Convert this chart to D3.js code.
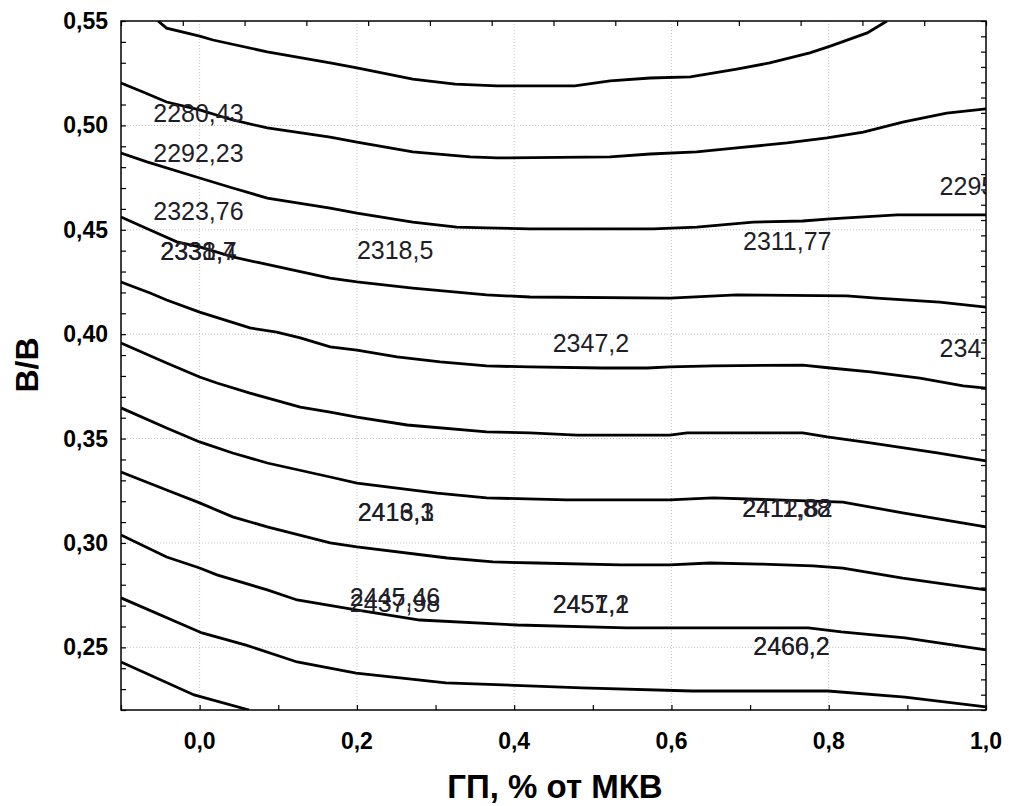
<!DOCTYPE html>
<html>
<head>
<meta charset="utf-8">
<script src="https://cdn.jsdelivr.net/npm/d3@7/dist/d3.min.js"></script>
<style>
body { margin: 0; background: #fff; }
text { font-family: Arial, "Liberation Sans", sans-serif; }
</style>
</head>
<body>
<div id="chart"></div>
<script>
// axis ticks
var xTicks = [0.0, 0.2, 0.4, 0.6, 0.8, 1.0];
var yTicks = [0.25, 0.30, 0.35, 0.40, 0.45, 0.50, 0.55];

// contour lines as [ГП, В/В]
var iso1 = [[-0.053,0.550],[-0.042,0.5466],[0.000,0.5428],[0.017,0.5409],[0.086,0.5352],[0.166,0.5299],[0.200,0.5275],[0.271,0.5222],[0.325,0.5198],[0.378,0.5189],[0.477,0.5189],[0.522,0.5213],[0.573,0.5227],[0.624,0.5232],[0.683,0.527],[0.725,0.5299],[0.776,0.5347],[0.802,0.538],[0.849,0.5443],[0.861,0.547],[0.874,0.550]];
var iso2 = [[-0.1,0.5203],[-0.072,0.516],[-0.042,0.5112],[0.0,0.5074],[0.042,0.5026],[0.086,0.4988],[0.166,0.4944],[0.2,0.492],[0.271,0.4873],[0.344,0.4849],[0.378,0.4844],[0.522,0.4849],[0.573,0.4863],[0.632,0.4873],[0.683,0.4892],[0.747,0.4916],[0.798,0.494],[0.844,0.4968],[0.894,0.5016],[0.950,0.5059],[1.0,0.5079]];
var iso3 = [[-0.1,0.4868],[-0.067,0.4825],[0.0,0.4748],[0.042,0.470],[0.086,0.4652],[0.166,0.4604],[0.2,0.458],[0.271,0.4537],[0.327,0.4513],[0.365,0.4509],[0.420,0.4504],[0.577,0.4504],[0.632,0.4513],[0.704,0.4537],[0.767,0.4542],[0.802,0.4552],[0.887,0.4571],[1.0,0.4571]];
var iso4 = [[-0.1,0.4561],[-0.063,0.4499],[-0.029,0.4442],[0.0,0.4418],[0.042,0.437],[0.077,0.4341],[0.166,0.4269],[0.2,0.425],[0.271,0.4221],[0.365,0.4188],[0.420,0.4178],[0.598,0.4173],[0.683,0.4188],[0.823,0.4183],[0.861,0.4173],[0.941,0.4154],[1.0,0.413]];
var iso5 = [[-0.1,0.425],[-0.063,0.4197],[-0.042,0.4164],[0.0,0.4106],[0.064,0.403],[0.098,0.401],[0.128,0.3982],[0.166,0.3939],[0.2,0.3924],[0.251,0.3891],[0.306,0.3867],[0.365,0.3848],[0.420,0.3843],[0.513,0.3838],[0.569,0.3838],[0.598,0.3843],[0.653,0.3848],[0.767,0.3852],[0.802,0.3838],[0.853,0.3819],[0.916,0.379],[0.971,0.3752],[1.0,0.3742]];
var iso6 = [[-0.1,0.3958],[-0.042,0.3862],[0.0,0.3795],[0.022,0.3766],[0.064,0.3718],[0.128,0.3651],[0.166,0.3627],[0.2,0.3603],[0.264,0.3565],[0.365,0.3532],[0.420,0.3527],[0.480,0.3517],[0.598,0.3517],[0.620,0.3527],[0.767,0.3527],[0.798,0.3508],[0.853,0.3479],[0.938,0.3431],[1.0,0.3393]];
var iso7 = [[-0.1,0.3647],[-0.042,0.3551],[0.0,0.3484],[0.042,0.3431],[0.086,0.3383],[0.166,0.3316],[0.2,0.3287],[0.302,0.3239],[0.365,0.3216],[0.467,0.3206],[0.598,0.3206],[0.653,0.3216],[0.818,0.3196],[0.894,0.3144],[1.0,0.3077]];
var iso8 = [[-0.1,0.334],[-0.042,0.3254],[0.0,0.3192],[0.042,0.3125],[0.086,0.3077],[0.166,0.300],[0.2,0.2981],[0.315,0.2928],[0.373,0.2909],[0.429,0.2904],[0.535,0.2895],[0.598,0.2895],[0.649,0.2904],[0.713,0.2899],[0.780,0.289],[0.818,0.288],[0.894,0.2832],[1.0,0.2775]];
var iso9 = [[-0.1,0.3038],[-0.042,0.2933],[0.0,0.288],[0.022,0.2847],[0.086,0.2775],[0.124,0.2727],[0.199,0.2679],[0.280,0.2631],[0.404,0.2607],[0.543,0.2593],[0.774,0.2593],[0.816,0.2574],[0.897,0.2545],[1.0,0.2488]];
var iso10 = [[-0.1,0.2737],[0.003,0.2569],[0.059,0.2511],[0.124,0.243],[0.199,0.2377],[0.313,0.233],[0.486,0.2306],[0.626,0.2291],[0.799,0.2291],[0.897,0.2262],[1.0,0.2215]];
var iso11 = [[-0.1,0.243],[-0.007,0.2272],[0.063,0.22]];

// contour labels
var labelText = ["2280,43", "2292,23", "2323,76", "2331,4", "2338,7", "2318,5", "2311,77", "2295,11",
                 "2347,2", "2347,2", "2416,1", "2413,3", "2412,82", "2411,88", "2445,46", "2437,98",
                 "2457,2", "2451,1", "2466,2", "2460,2"];
var labelX = [-0.059, -0.059, -0.059, -0.050, -0.050, 0.200, 0.691, 0.941,
              0.449, 0.941, 0.201, 0.201, 0.690, 0.690, 0.191, 0.191,
              0.449, 0.449, 0.704, 0.704];
var labelY = [0.5016, 0.4825, 0.4547, 0.4355, 0.4355, 0.4360, 0.4403, 0.4667,
              0.3915, 0.3891, 0.3105, 0.3105, 0.3125, 0.3125, 0.2698, 0.2670,
              0.2665, 0.2665, 0.2464, 0.2464];

var w = 1009;
var h = 806;
var x0 = 121, x1 = 986, y0 = 21, y1 = 710;

var svg = d3.select("#chart")
            .append("svg")
            .attr("width", w)
            .attr("height", h);

var x = d3.scaleLinear().domain([-0.1, 1.0]).range([x0, x1]);
var y = d3.scaleLinear().domain([0.22, 0.55]).range([y1, y0]);

// the top and right edges carry their own tick spacing
var xTop = d3.scaleLinear().domain([0, 14]).range([x0, x1]);
var yRight = d3.scaleLinear().domain([0, 45]).range([y0, y1]);

var comma = function(f) {
    return function(d) { return d3.format(f)(d).replace(".", ","); };
};

svg.append("clipPath")
   .attr("id", "plot")
   .append("rect")
   .attr("x", x0)
   .attr("y", y0)
   .attr("width", x1 - x0)
   .attr("height", y1 - y0);

// grid
svg.append("g")
   .selectAll("line")
   .data(xTicks.filter(function(d) { return d < 1.0; }))
   .enter()
   .append("line")
   .attr("x1", function(d) { return x(d); })
   .attr("x2", function(d) { return x(d); })
   .attr("y1", y0)
   .attr("y2", y1)
   .attr("stroke", "#c4c4c4")
   .attr("stroke-dasharray", "1,2");

svg.append("g")
   .selectAll("line")
   .data(yTicks.filter(function(d) { return d < 0.55; }))
   .enter()
   .append("line")
   .attr("x1", x0)
   .attr("x2", x1)
   .attr("y1", function(d) { return y(d); })
   .attr("y2", function(d) { return y(d); })
   .attr("stroke", "#c4c4c4")
   .attr("stroke-dasharray", "1,2");

// contours
var line = d3.line()
    .x(function(d) { return x(d[0]); })
    .y(function(d) { return y(d[1]); });

svg.append("g")
   .attr("clip-path", "url(#plot)")
   .selectAll("path")
   .data([iso1, iso2, iso3, iso4, iso5, iso6, iso7, iso8, iso9, iso10, iso11])
   .enter()
   .append("path")
   .attr("d", line)
   .attr("fill", "none")
   .attr("stroke", "#000")
   .attr("stroke-width", 2.8);

svg.append("g")
   .attr("clip-path", "url(#plot)")
   .selectAll("text")
   .data(labelText)
   .enter()
   .append("text")
   .text(function(d) { return d; })
   .attr("x", function(d, i) { return x(labelX[i]); })
   .attr("y", function(d, i) { return y(labelY[i]); })
   .attr("font-size", "25px")
   .attr("fill", "#1e1e28");

// axes with inward ticks, labels drawn separately
var tickStyle = function(g) {
    g.select(".domain").remove();
    g.selectAll(".tick line").attr("stroke", "#000").attr("stroke-width", 1.2);
    g.selectAll(".tick text").remove();
};

svg.append("g")
   .attr("transform", "translate(0," + y1 + ")")
   .call(d3.axisTop(x).tickValues(d3.range(-0.1, 1.001, 0.1)).tickSize(5))
   .call(tickStyle);

svg.append("g")
   .attr("transform", "translate(" + x0 + ",0)")
   .call(d3.axisRight(y).tickValues(d3.range(0.22, 0.5501, 0.01)).tickSize(5))
   .call(tickStyle);

svg.append("g")
   .attr("transform", "translate(0," + y0 + ")")
   .call(d3.axisBottom(xTop).tickValues(d3.range(0, 15)).tickSize(5))
   .call(tickStyle);

svg.append("g")
   .attr("transform", "translate(" + x1 + ",0)")
   .call(d3.axisLeft(yRight).tickValues(d3.range(0, 46)).tickSize(5))
   .call(tickStyle);

svg.append("rect")
   .attr("x", x0)
   .attr("y", y0)
   .attr("width", x1 - x0)
   .attr("height", y1 - y0)
   .attr("fill", "none")
   .attr("stroke", "#000")
   .attr("stroke-width", 1.5);

// tick labels
svg.append("g")
   .selectAll("text")
   .data(xTicks)
   .enter()
   .append("text")
   .text(comma(".1f"))
   .attr("x", function(d) { return x(d); })
   .attr("y", 749)
   .attr("text-anchor", "middle")
   .attr("font-size", "23px")
   .attr("font-weight", "bold");

svg.append("g")
   .selectAll("text")
   .data(yTicks)
   .enter()
   .append("text")
   .text(comma(".2f"))
   .attr("x", 108)
   .attr("y", function(d) { return y(d) + 8; })
   .attr("text-anchor", "end")
   .attr("font-size", "23px")
   .attr("font-weight", "bold");

// titles
svg.append("text")
   .text("ГП, % от МКВ")
   .attr("x", 555)
   .attr("y", 798)
   .attr("text-anchor", "middle")
   .attr("font-size", "33px")
   .attr("font-weight", "bold");

svg.append("text")
   .text("В/В")
   .attr("transform", "translate(38,365) rotate(-90)")
   .attr("text-anchor", "middle")
   .attr("font-size", "32px")
   .attr("font-weight", "bold");
</script>
</body>
</html>
